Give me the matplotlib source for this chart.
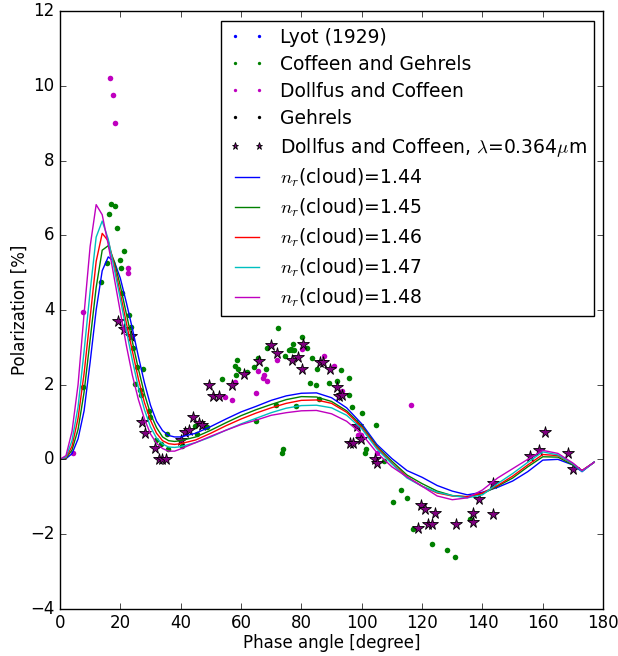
import matplotlib
matplotlib.use("Agg")
import matplotlib.pyplot as plt

plt.style.use("classic")

# observations
lyot_x = []
lyot_y = []

coffeen_x = [16.9, 18.3, 16.1, 18.8, 21.2, 20.0, 15.7, 20.2, 13.5, 20.7, 22.9, 23.5,
             24.3, 25.5, 25.0, 27.6, 26.5, 26.8, 29.5, 30.0, 31.7, 33.5, 35.9, 35.4,
             7.7, 53.7, 58.7, 58.0, 59.1, 58.3, 62.1, 64.3, 65.5, 65.7, 68.3, 68.6,
             72.4, 75.8, 76.7, 77.3, 76.9, 74.6, 74.0, 73.5, 71.5, 64.9, 78.2, 47.3,
             48.6, 44.9, 45.3, 40.5, 80.3, 77.6, 81.8, 83.4, 85.1, 82.9, 84.9, 89.3,
             91.7, 93.0, 95.7, 95.9, 96.7, 100.2, 104.6, 101.4, 101.1, 107.3, 86.0,
             113.1, 114.9, 117.1, 123.2, 128.3, 131.0, 135.9, 110.2]
coffeen_y = [6.83, 6.79, 6.56, 6.20, 5.57, 5.35, 5.27, 5.12, 4.75, 4.45, 3.87, 3.54,
             2.99, 2.47, 2.03, 2.43, 1.85, 1.71, 1.29, 1.13, 0.51, 0.42, 0.28, 0.67,
             1.94, 2.14, 2.65, 2.51, 2.42, 2.27, 2.34, 2.47, 2.72, 2.65, 2.41, 2.98,
             3.52, 2.92, 2.96, 3.10, 2.92, 2.76, 0.29, 0.17, 1.46, 1.04, 1.43, 0.93,
             0.86, 0.88, 0.69, 0.37, 3.27, 2.92, 2.98, 2.72, 2.41, 2.05, 2.00, 2.04,
             2.11, 2.38, 2.19, 1.71, 1.40, 1.24, 0.93, 0.27, 0.18, -0.05, 1.62,
             -0.81, -1.03, -1.87, -2.26, -2.42, -2.62, -1.61, -1.14]

dollfus_x = [16.6, 17.6, 18.2, 22.6, 22.6, 7.8, 4.2, 54.7, 56.9, 58.0, 64.9, 65.5,
             67.7, 67.4, 68.5, 71.8, 80.3, 87.6, 90.7, 93.4, 98.9, 99.7, 105.2, 116.3]
dollfus_y = [10.20, 9.75, 9.00, 5.13, 4.99, 3.94, 0.18, 1.67, 1.58, 2.08, 1.79, 2.36,
             2.27, 2.19, 2.11, 2.65, 2.96, 2.76, 2.50, 1.83, 0.64, 0.64, 0.17, 1.46]

gehrels_x = []
gehrels_y = []

uv_x = [19.3, 21.2, 23.6, 27.2, 28.2, 31.5, 32.7, 33.9, 35.1, 40.1, 41.5, 42.9,
        44.1, 46.2, 47.1, 49.4, 50.8, 52.8, 57.1, 61.0, 66.0, 70.0, 72.0, 77.0,
        78.8, 80.4, 80.3, 86.2, 87.0, 89.5, 91.7, 92.5, 93.4, 98.3, 99.8, 96.1,
        97.2, 104.4, 105.2, 119.6, 120.9, 124.3, 118.8, 122.1, 123.2, 131.3, 137.0,
        137.0, 138.7, 143.6, 143.6, 155.8, 158.8, 160.8, 168.3, 170.1]
uv_y = [3.70, 3.48, 3.29, 1.00, 0.71, 0.30, 0.00, 0.00, 0.00, 0.51, 0.73, 0.79,
        1.13, 0.98, 0.93, 2.00, 1.69, 1.69, 2.00, 2.29, 2.63, 3.05, 2.85, 2.65,
        2.74, 3.10, 2.41, 2.60, 2.60, 2.43, 1.94, 1.69, 1.71, 0.89, 0.55, 0.44,
        0.44, 0.00, -0.11, -1.21, -1.32, -1.43, -1.85, -1.72, -1.72, -1.72, -1.43,
        -1.69, -1.05, -0.63, -1.45, 0.08, 0.26, 0.74, 0.17, -0.25]

# model curves
model_x = [0, 2, 4, 6, 8, 10, 12, 14, 16, 18, 20, 22, 24, 26, 28, 30, 32, 34, 36, 38,
           40, 45, 50, 55, 60, 65, 70, 75, 80, 85, 90, 95, 100, 105, 110, 115, 120,
           125, 130, 135, 140, 145, 150, 155, 160, 165, 170, 173, 177]
p144 = [0, 0.02, 0.15, 0.55, 1.3, 2.6, 4.0, 5.05, 5.42, 5.3, 4.85, 4.2, 3.5, 2.75,
        2.05, 1.45, 1.02, 0.77, 0.64, 0.6, 0.6, 0.7, 0.88, 1.08, 1.27, 1.42, 1.58,
        1.7, 1.77, 1.78, 1.65, 1.38, 0.95, 0.4, 0.02, -0.3, -0.48, -0.7, -0.85, -0.95,
        -0.88, -0.75, -0.58, -0.33, -0.02, 0.0, -0.15, -0.33, -0.07]
p145 = [0, 0.03, 0.25, 0.8, 1.8, 3.2, 4.6, 5.6, 5.72, 5.3, 4.65, 3.9, 3.15, 2.42,
        1.75, 1.22, 0.85, 0.6, 0.5, 0.48, 0.5, 0.6, 0.78, 0.98, 1.17, 1.33, 1.47,
        1.6, 1.68, 1.67, 1.55, 1.3, 0.9, 0.35, -0.05, -0.42, -0.65, -0.85, -0.97,
        -1.0, -0.92, -0.72, -0.5, -0.2, 0.07, 0.06, -0.15, -0.3, -0.08]
p146 = [0, 0.04, 0.35, 1.1, 2.3, 3.8, 5.3, 6.05, 5.85, 5.2, 4.45, 3.65, 2.9, 2.15,
        1.52, 1.05, 0.7, 0.5, 0.42, 0.4, 0.42, 0.52, 0.7, 0.9, 1.08, 1.24, 1.38,
        1.5, 1.58, 1.59, 1.5, 1.26, 0.86, 0.32, -0.1, -0.47, -0.72, -0.9, -0.98,
        -1.0, -0.9, -0.7, -0.45, -0.15, 0.13, 0.1, -0.12, -0.3, -0.08]
p147 = [0, 0.06, 0.5, 1.4, 2.9, 4.5, 5.95, 6.38, 5.9, 5.1, 4.3, 3.45, 2.65, 1.92,
        1.33, 0.87, 0.57, 0.41, 0.33, 0.32, 0.34, 0.45, 0.6, 0.78, 0.95, 1.1, 1.25,
        1.37, 1.44, 1.45, 1.38, 1.18, 0.82, 0.28, -0.12, -0.5, -0.72, -0.88, -0.97,
        -1.03, -0.95, -0.65, -0.38, -0.08, 0.2, 0.12, -0.12, -0.32, -0.08]
p148 = [0, 0.1, 0.75, 2.0, 3.9, 5.7, 6.82, 6.55, 5.75, 4.85, 3.95, 3.05, 2.25, 1.6,
        1.08, 0.68, 0.43, 0.29, 0.22, 0.22, 0.28, 0.45, 0.62, 0.78, 0.93, 1.05,
        1.18, 1.25, 1.3, 1.31, 1.22, 1.02, 0.68, 0.18, -0.2, -0.47, -0.72, -0.98,
        -1.08, -1.03, -0.82, -0.5, -0.25, 0.0, 0.24, 0.16, -0.1, -0.3, -0.08]

models = [("1.44", p144, "b"), ("1.45", p145, "g"), ("1.46", p146, "r"),
          ("1.47", p147, "c"), ("1.48", p148, "m")]

fig = plt.figure(figsize=(6.18, 6.56), dpi=100)
ax = fig.add_axes([0.097, 0.072, 0.879, 0.911])

ax.plot(lyot_x, lyot_y, "o", color="b", mec="none", ms=4, label="Lyot (1929)")
ax.plot(coffeen_x, coffeen_y, "o", color="g", mec="none", ms=4,
        label="Coffeen and Gehrels")
ax.plot(dollfus_x, dollfus_y, "o", color="m", mec="none", ms=4,
        label="Dollfus and Coffeen")
ax.plot(gehrels_x, gehrels_y, "o", color="k", mec="none", ms=4, label="Gehrels")
ax.plot(uv_x, uv_y, "*", color="purple", mec="k", mew=0.6, ms=8.5,
        label=r"Dollfus and Coffeen, $\lambda$=0.364$\mu$m")

for nr, vals, c in models:
    ax.plot(model_x, vals, "-", color=c, lw=1, label=r"$n_r$(cloud)=" + nr)

ax.set_xlim(0, 180)
ax.set_ylim(-4, 12)
ax.set_xlabel("Phase angle [degree]", labelpad=1)
ax.set_ylabel("Polarization [%]", labelpad=1)
ax.legend(loc="upper right", fontsize=13.5, markerscale=0.6, numpoints=2,
          labelspacing=0.42, handlelength=1.9)

fig.savefig("out.png", dpi=100)
